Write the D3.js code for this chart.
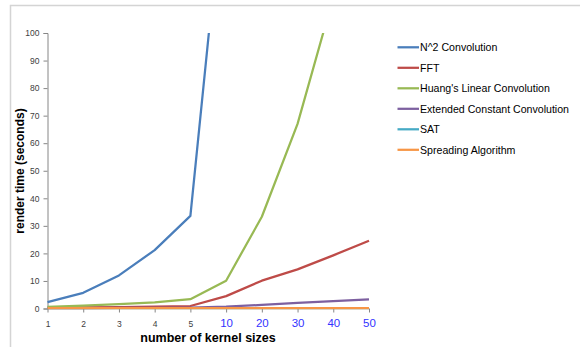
<!DOCTYPE html>
<html>
<head>
<meta charset="utf-8">
<script src="https://cdn.jsdelivr.net/npm/d3@7"></script>
<style>
html,body{margin:0;padding:0;background:#fff;}
svg{display:block;}
</style>
</head>
<body>
<svg id="chart" width="580" height="347"></svg>
<script>
const categories = ["1","2","3","4","5","10","20","30","40","50"];
const seriesNames = ["N^2 Convolution","FFT","Huang's Linear Convolution","Extended Constant Convolution","SAT","Spreading Algorithm"];
const n2Conv   = [2.3, 5.7, 12.0, 21.2, 33.6, 162, null, null, null, null];
const fft      = [0.3, 0.4, 0.5, 0.7, 0.9, 4.5, 10.1, 14.2, 19.3, 24.6];
const huang    = [0.6, 1.0, 1.6, 2.2, 3.4, 10.1, 33.3, 67, 113, null];
const extConst = [0.1, 0.15, 0.2, 0.25, 0.35, 0.65, 1.3, 2.0, 2.7, 3.3];
const sat      = [0.1, 0.1, 0.1, 0.1, 0.1, 0.1, 0.1, 0.1, 0.1, 0.1];
const spreading= [0.15, 0.15, 0.15, 0.15, 0.15, 0.15, 0.15, 0.15, 0.15, 0.15];
const yTicks = [0,10,20,30,40,50,60,70,80,90,100];
const colors = ["#4A7EBB","#BE4B48","#98B954","#7D60A0","#46AAC5","#F79646"];

const allSeries = [n2Conv, fft, huang, extConst, sat, spreading];
const drawOrder = [0,1,2,3,4,5];

const svg = d3.select("#chart");
const font = "'Liberation Sans', Arial, sans-serif";

// outer frame
svg.append("rect").attr("x",10.5).attr("y",5.5).attr("width",600).attr("height",400)
  .attr("fill","none").attr("stroke","#d4d4d4").attr("stroke-width",1.5);

const x = d3.scalePoint().domain(categories).range([47.5, 369]);
const y = d3.scaleLinear().domain([0,100]).range([308.5, 33]);

svg.append("defs").append("clipPath").attr("id","plotclip")
  .append("rect").attr("x",40).attr("y",y(100)).attr("width",340).attr("height",y(0)-y(100)+5);

// y axis
const yAxis = svg.append("g").attr("transform","translate(47.5,0)")
  .call(d3.axisLeft(y).tickValues(yTicks).tickSize(4).tickPadding(4).tickFormat(d3.format("d")));
yAxis.select(".domain").attr("stroke","#868686");
yAxis.selectAll(".tick line").attr("stroke","#868686");
yAxis.selectAll(".tick text").attr("fill","#404040").style("font-family",font).style("font-size","8.5px");

// x axis
const xAxis = svg.append("g").attr("transform",`translate(0,${y(0)})`)
  .call(d3.axisBottom(x).tickSize(4).tickPadding(8));
xAxis.select(".domain").attr("stroke","#868686").attr("d",`M${x(categories[0])},0H${x(categories[categories.length-1])}`);
xAxis.selectAll(".tick line").attr("stroke","#868686");
xAxis.selectAll(".tick text").style("font-family",font)
  .each(function(d,i){
    const t = d3.select(this);
    if (i < 5) { t.attr("fill","#404040").style("font-size","8.5px"); }
    else { t.attr("fill","#3333ff").style("font-size","11.5px").attr("y",10); }
  });

// lines
const line = d3.line()
  .defined(d => d.v !== null)
  .x(d => x(d.c))
  .y(d => y(d.v));

const g = svg.append("g").attr("clip-path","url(#plotclip)");
drawOrder.forEach(i => {
  const data = categories.map((c,j) => ({c:c, v:allSeries[i][j]}));
  g.append("path").datum(data).attr("d",line)
    .attr("fill","none").attr("stroke",colors[i]).attr("stroke-width",2.25)
    .attr("stroke-linejoin","round");
});

// axis titles
svg.append("text").attr("transform",`translate(24,${171}) rotate(-90)`)
  .attr("text-anchor","middle").style("font-family",font).style("font-weight","bold")
  .style("font-size","12px").attr("fill","#000").text("render time (seconds)");
svg.append("text").attr("x",208).attr("y",342)
  .attr("text-anchor","middle").style("font-family",font).style("font-weight","bold")
  .style("font-size","12.5px").attr("fill","#000").text("number of kernel sizes");

// legend
const legend = svg.append("g");
seriesNames.forEach((name,i) => {
  const ly = 47.3 + i*20.5;
  legend.append("line").attr("x1",397.5).attr("x2",419).attr("y1",ly).attr("y2",ly)
    .attr("stroke",colors[i]).attr("stroke-width",2.25);
  legend.append("text").attr("x",420).attr("y",ly).attr("dy","0.35em")
    .style("font-family",font).style("font-size","10.6px").attr("fill","#000").text(name);
});
</script>
</body>
</html>
